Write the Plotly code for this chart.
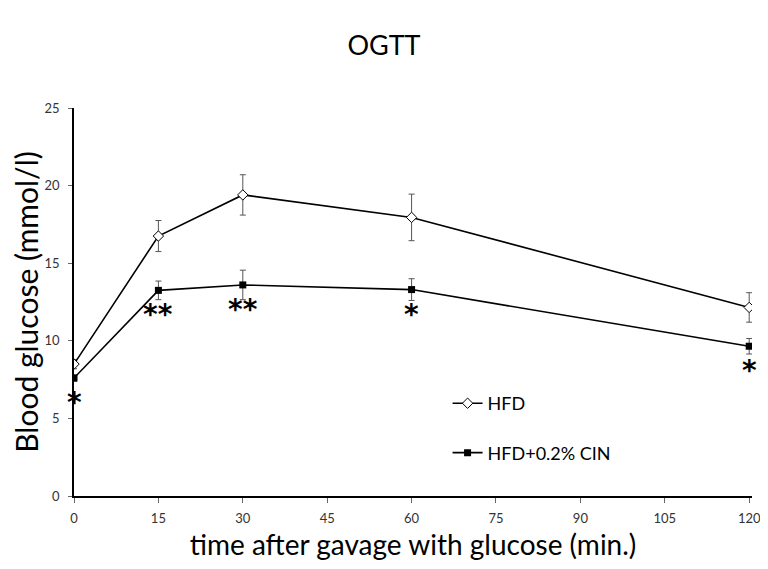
import plotly.graph_objects as go

# time points (min.)
time_min = [0, 15, 30, 60, 120]

# blood glucose, mmol/l
hfd_mean = [8.5, 16.75, 19.4, 17.95, 12.15]
hfd_err = [0.3, 1.0, 1.3, 1.5, 0.95]
cin_mean = [7.6, 13.25, 13.6, 13.3, 9.65]
cin_err = [0.2, 0.6, 0.95, 0.7, 0.5]

# significance marks under the CIN curve
sig_marks = ["*", "**", "**", "*", "*"]

FONT = "Lato"

fig = go.Figure()

fig.add_trace(go.Scatter(
    x=time_min, y=hfd_mean, name="HFD", legendgroup="a",
    mode="lines+markers",
    line=dict(color="black", width=1.6),
    marker=dict(symbol="diamond", size=8, color="white",
                line=dict(color="black", width=1)),
    error_y=dict(type="data", array=hfd_err, color="#555555",
                 thickness=1, width=3),
))
fig.add_trace(go.Scatter(
    x=time_min, y=cin_mean, name="HFD+0.2% CIN", legendgroup="b",
    mode="lines+markers",
    line=dict(color="black", width=1.6),
    marker=dict(symbol="square", size=7, color="black"),
    error_y=dict(type="data", array=cin_err, color="#555555",
                 thickness=1, width=3),
))

# asterisks
for t, m, s in zip(time_min, cin_mean, sig_marks):
    fig.add_annotation(x=t, y=m, text="<b>" + s + "</b>", showarrow=False,
                       xanchor="center", yanchor="top", yshift=-6,
                       font=dict(family="DejaVu Sans", size=28, color="black"))

# page body has an 8px margin on every side, so the figure is 16px smaller
fig.update_layout(
    width=752, height=553,
    paper_bgcolor="white", plot_bgcolor="white",
    margin=dict(l=66, r=8, t=100, b=65),
    title=dict(text="OGTT", x=0.5, xanchor="center", y=0.933, yanchor="middle",
               font=dict(family=FONT, size=27, color="black")),
    font=dict(family=FONT, color="#333333"),
    showlegend=True,
    legend=dict(x=0.551, y=0.286, xanchor="left", yanchor="top",
                bgcolor="rgba(0,0,0,0)", tracegroupgap=23,
                itemwidth=30,
                font=dict(family=FONT, size=18, color="black")),
    xaxis=dict(range=[0, 120.5], tickvals=[0, 15, 30, 45, 60, 75, 90, 105, 120],
               automargin=False, ticklabeloverflow="allow",
               showline=True, linecolor="black", linewidth=1.5,
               ticks="outside", ticklen=5, tickcolor="#666666",
               ticklabelstandoff=5,
               showgrid=False, zeroline=False,
               tickfont=dict(size=13, color="#333333"),
               title=dict(text="time after gavage with glucose (min.)",
                          font=dict(family=FONT, size=28, color="black"),
                          standoff=15)),
    yaxis=dict(range=[0, 25], tickvals=[0, 5, 10, 15, 20, 25],
               automargin=False,
               showline=True, linecolor="black", linewidth=1.5,
               ticks="outside", ticklen=4, tickcolor="#666666",
               ticklabelstandoff=6,
               showgrid=False, zeroline=False,
               tickfont=dict(size=13, color="#333333"),
               title=dict(text="Blood glucose (mmol/l)",
                          font=dict(family=FONT, size=30, color="black"),
                          standoff=0)),
)

fig.write_html("out.html")
